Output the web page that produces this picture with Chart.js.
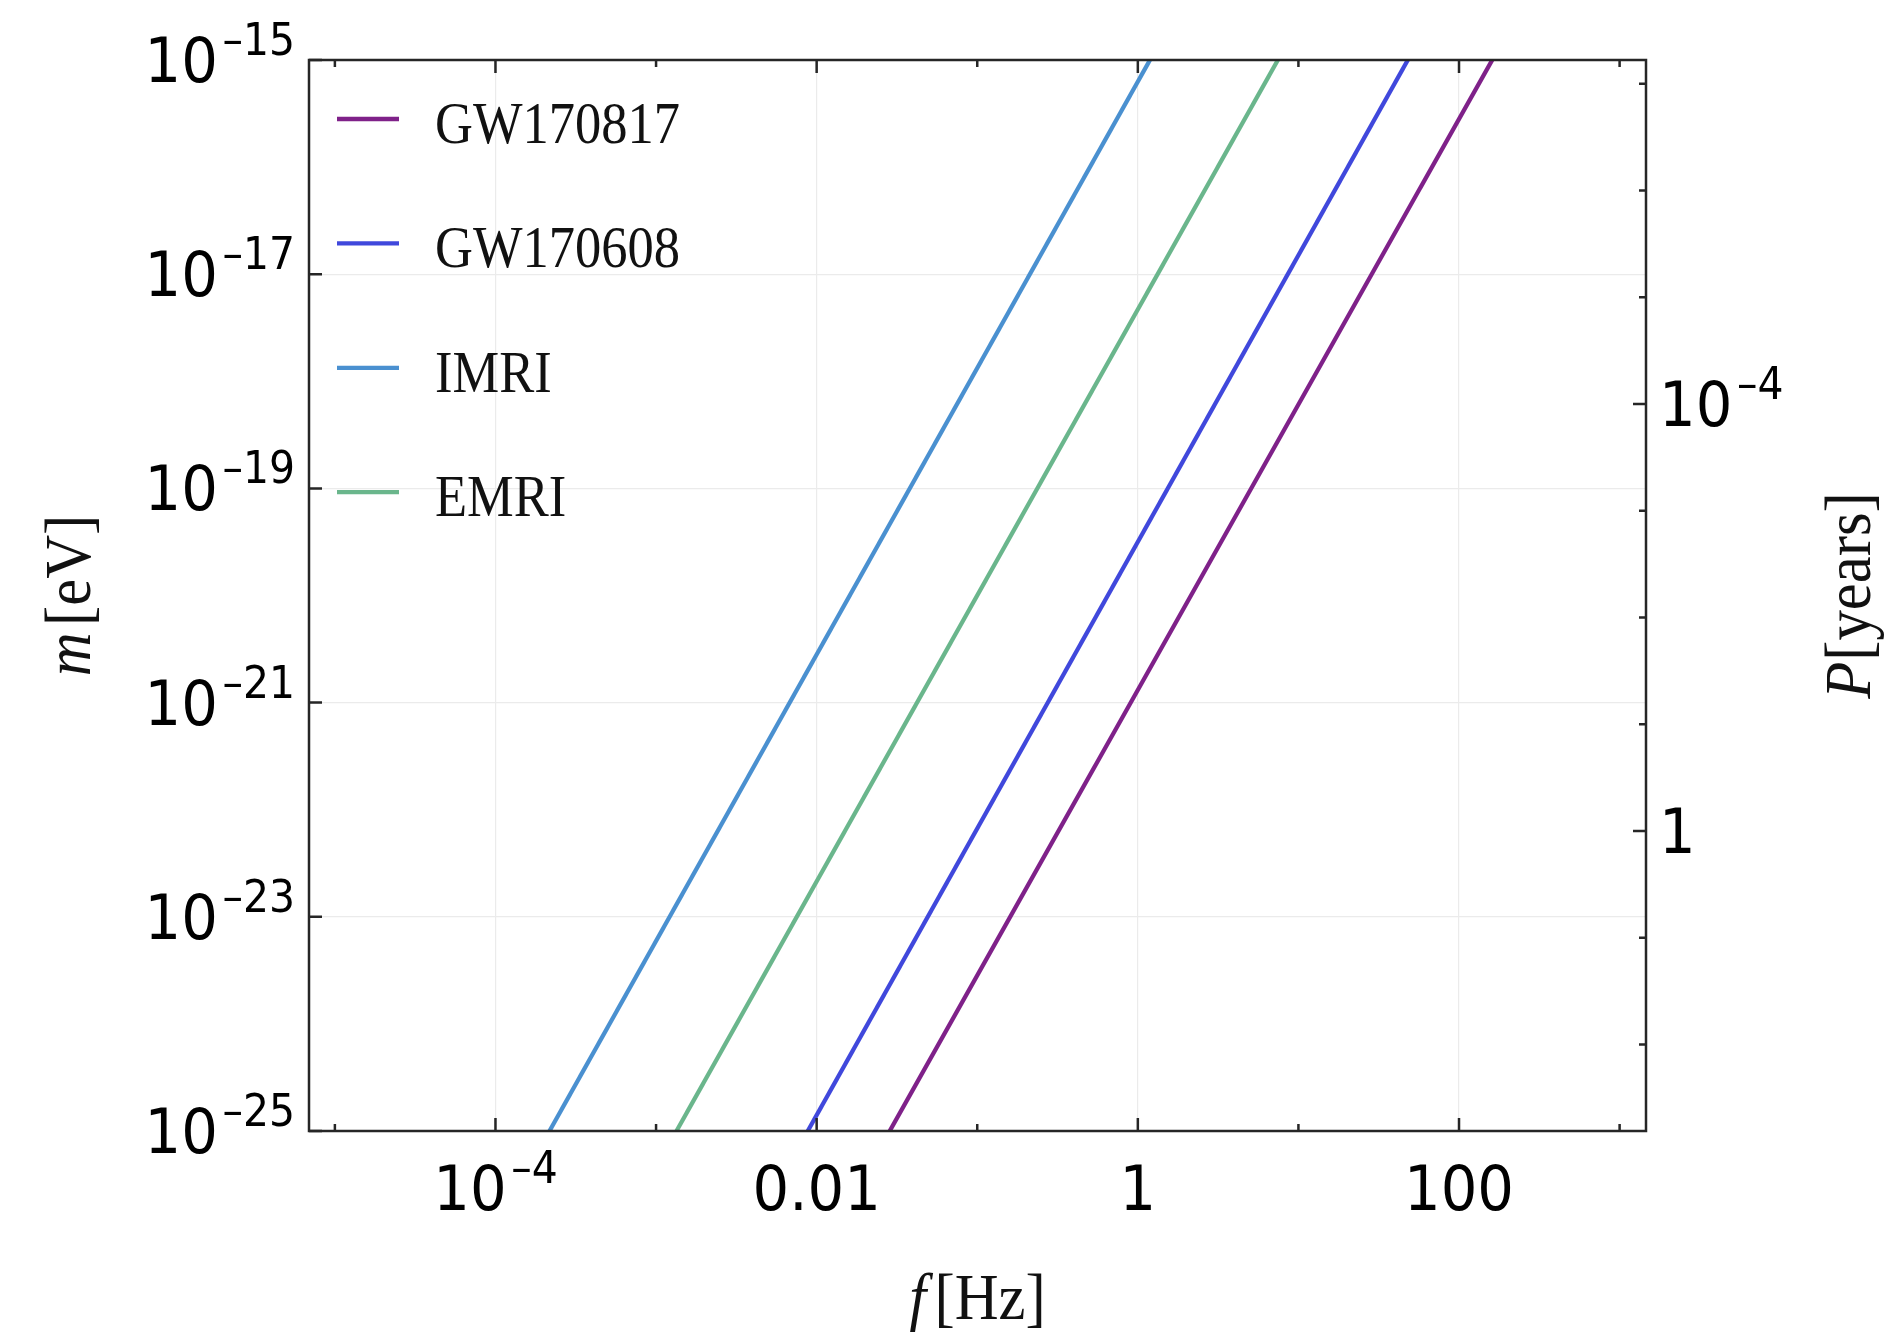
<!DOCTYPE html>
<html>
<head>
<meta charset="utf-8">
<title>m vs f</title>
<script src="https://cdn.jsdelivr.net/npm/chart.js@4.4.1/dist/chart.umd.min.js"></script>
<style>
  html, body { margin: 0; padding: 0; background: #fff; }
  #wrap { width: 1891px; height: 1332px; position: relative; }
</style>
</head>
<body>
<div id="wrap"><canvas id="mass-chart"></canvas></div>
<script>
// values
const seriesNames = ['GW170817', 'GW170608', 'IMRI', 'EMRI'];
const seriesColors = ['#7f2189', '#4048dc', '#4a90d0', '#6ab68c'];
const massEnds = [1e-25, 1e-15];      // m [eV] at both ends of every line
const fGW170817 = [2.85e-2, 161];     // f [Hz] at those two masses
const fGW170608 = [8.8e-3, 48];
const fIMRI = [2.17e-4, 1.19];
const fEMRI = [1.34e-3, 7.45];

// axes
const fRange = [6.9e-6, 1.46e3];
const mRange = [1e-25, 1e-15];
const pRange = [6.46e-8, 646];
const xTickValues = [1e-5, 1e-4, 1e-3, 1e-2, 1e-1, 1, 10, 100, 1000];
const xLabelValues = [1e-4, 1e-2, 1, 100];
const xLabels = ['10^\u20134', '0.01', '1', '100'];
const yLabelValues = [1e-25, 1e-23, 1e-21, 1e-19, 1e-17, 1e-15];
const yLabels = ['10^\u201325', '10^\u201323', '10^\u201321', '10^\u201319', '10^\u201317', '10^\u201315'];
const pTickValues = [1e-7, 1e-6, 1e-5, 1e-4, 1e-3, 1e-2, 1e-1, 1, 10, 100];
const pLabelValues = [1e-4, 1];
const pLabels = ['10^\u20134', '1'];

const TICK_FONT = '62px "DejaVu Sans"';
const EXP_FONT = '44px "DejaVu Sans"';
const SQ = 0.93;           // tick labels are a condensed face
const FRAME = '#262626';
const LINE_W = 4.3;

function drawPow(ctx, label, x, y, align) {
    const parts = label.split('^');
    ctx.font = TICK_FONT;
    const bw = ctx.measureText(parts[0]).width;
    let ew = 0;
    if (parts[1]) {
        ctx.font = EXP_FONT;
        ew = 5 + ctx.measureText(parts[1]).width;
    }
    const w = (bw + ew) * SQ;
    const x0 = align === 'right' ? x - w : align === 'center' ? x - w / 2 : x;
    ctx.save();
    ctx.translate(x0, y);
    ctx.scale(SQ, 1);
    ctx.fillStyle = '#000';
    ctx.textAlign = 'left';
    ctx.textBaseline = 'alphabetic';
    ctx.font = TICK_FONT;
    ctx.fillText(parts[0], 0, 0);
    if (parts[1]) {
        ctx.font = EXP_FONT;
        ctx.fillText(parts[1], bw + 5, -27);
    }
    ctx.restore();
}

// parts: {t: text, i: italic, g: extra gap after}
function drawTitle(ctx, parts, cx, cy, rot) {
    ctx.save();
    ctx.translate(cx, cy);
    if (rot) ctx.rotate(rot);
    ctx.scale(0.92, 1);
    ctx.fillStyle = '#111';
    ctx.textBaseline = 'alphabetic';
    ctx.textAlign = 'left';
    let w = 0;
    parts.forEach(p => {
        ctx.font = (p.i ? 'italic ' : '') + '66px "Liberation Serif"';
        p.w = ctx.measureText(p.t).width + (p.g || 0);
        w += p.w;
    });
    let x = -w / 2;
    parts.forEach(p => {
        ctx.font = (p.i ? 'italic ' : '') + '66px "Liberation Serif"';
        ctx.fillText(p.t, x, 0);
        x += p.w;
    });
    ctx.restore();
}

// frame, inward ticks, tick labels, legend and axis titles
const framePlugin = {
    id: 'frame',
    afterDraw(chart) {
        const ctx = chart.ctx;
        const a = chart.chartArea;
        const xs = chart.scales.x, ys = chart.scales.y, ps = chart.scales.y2;

        ctx.save();
        ctx.strokeStyle = FRAME;
        ctx.lineWidth = 2.5;
        ctx.strokeRect(a.left, a.top, a.right - a.left, a.bottom - a.top);

        ctx.beginPath();
        xTickValues.forEach(v => {
            const x = xs.getPixelForValue(v);
            const len = xLabelValues.includes(v) ? 13 : 7;
            ctx.moveTo(x, a.bottom); ctx.lineTo(x, a.bottom - len);
            ctx.moveTo(x, a.top); ctx.lineTo(x, a.top + len);
        });
        yLabelValues.forEach(v => {
            const y = ys.getPixelForValue(v);
            ctx.moveTo(a.left, y); ctx.lineTo(a.left + 13, y);
        });
        pTickValues.forEach(v => {
            const y = ps.getPixelForValue(v);
            const len = pLabelValues.includes(v) ? 13 : 7;
            ctx.moveTo(a.right, y); ctx.lineTo(a.right - len, y);
        });
        ctx.stroke();
        ctx.restore();

        // tick labels
        xLabelValues.forEach((v, i) => drawPow(ctx, xLabels[i], xs.getPixelForValue(v), a.bottom + 79, 'center'));
        yLabelValues.forEach((v, i) => drawPow(ctx, yLabels[i], a.left - 14, ys.getPixelForValue(v) + 22, 'right'));
        pLabelValues.forEach((v, i) => drawPow(ctx, pLabels[i], a.right + 13, ps.getPixelForValue(v) + 22, 'left'));

        // legend
        chart.data.datasets.forEach((ds, i) => {
            const y = a.top + 59 + i * 124.4;
            ctx.save();
            ctx.strokeStyle = ds.borderColor;
            ctx.lineWidth = LINE_W;
            ctx.beginPath();
            ctx.moveTo(a.left + 28, y); ctx.lineTo(a.left + 90, y);
            ctx.stroke();
            ctx.translate(a.left + 126, y + 24);
            ctx.scale(0.875, 1);
            ctx.fillStyle = '#111';
            ctx.font = '60px "Liberation Serif"';
            ctx.textBaseline = 'alphabetic';
            ctx.fillText(ds.label, 0, 0);
            ctx.restore();
        });

        // axis titles
        drawTitle(ctx, [{ t: 'f', i: true, g: 9 }, { t: '[Hz]' }], (a.left + a.right) / 2, 1319, 0);
        drawTitle(ctx, [{ t: 'm', i: true, g: 7 }, { t: '[eV]' }], 90, (a.top + a.bottom) / 2, -Math.PI / 2);
        drawTitle(ctx, [{ t: 'P', i: true, g: 1 }, { t: '[years]' }], 1870, (a.top + a.bottom) / 2, -Math.PI / 2);
    }
};

const seriesF = [fGW170817, fGW170608, fIMRI, fEMRI];
const datasets = seriesNames.map((name, i) => ({
    label: name,
    data: seriesF[i].map((f, k) => ({ x: f, y: massEnds[k] })),
    borderColor: seriesColors[i],
    backgroundColor: seriesColors[i],
    borderWidth: LINE_W,
    pointRadius: 0,
    tension: 0,
    fill: false
}));

new Chart(document.getElementById('mass-chart').getContext('2d'), {
    type: 'line',
    data: { datasets: datasets },
    options: {
        responsive: true,
        maintainAspectRatio: false,
        animation: false,
        layout: { padding: { top: 60, left: 0, right: 0, bottom: 0 } },
        plugins: {
            legend: { display: false },
            tooltip: { enabled: false }
        },
        scales: {
            x: {
                type: 'logarithmic',
                min: fRange[0],
                max: fRange[1],
                afterBuildTicks: s => { s.ticks = xLabelValues.map(v => ({ value: v })); },
                afterFit: s => { s.height = 201; },
                ticks: { display: false },
                grid: { color: '#ebebeb', lineWidth: 1.2, drawTicks: false },
                border: { display: false }
            },
            y: {
                type: 'logarithmic',
                position: 'left',
                min: mRange[0],
                max: mRange[1],
                afterBuildTicks: s => { s.ticks = yLabelValues.map(v => ({ value: v })); },
                afterFit: s => { s.width = 309; },
                ticks: { display: false },
                grid: { color: '#ebebeb', lineWidth: 1.2, drawTicks: false },
                border: { display: false }
            },
            y2: {
                type: 'logarithmic',
                position: 'right',
                reverse: true,
                min: pRange[0],
                max: pRange[1],
                afterBuildTicks: s => { s.ticks = pLabelValues.map(v => ({ value: v })); },
                afterFit: s => { s.width = 245; },
                ticks: { display: false },
                grid: { display: false, drawTicks: false },
                border: { display: false }
            }
        }
    },
    plugins: [framePlugin]
});
</script>
</body>
</html>
